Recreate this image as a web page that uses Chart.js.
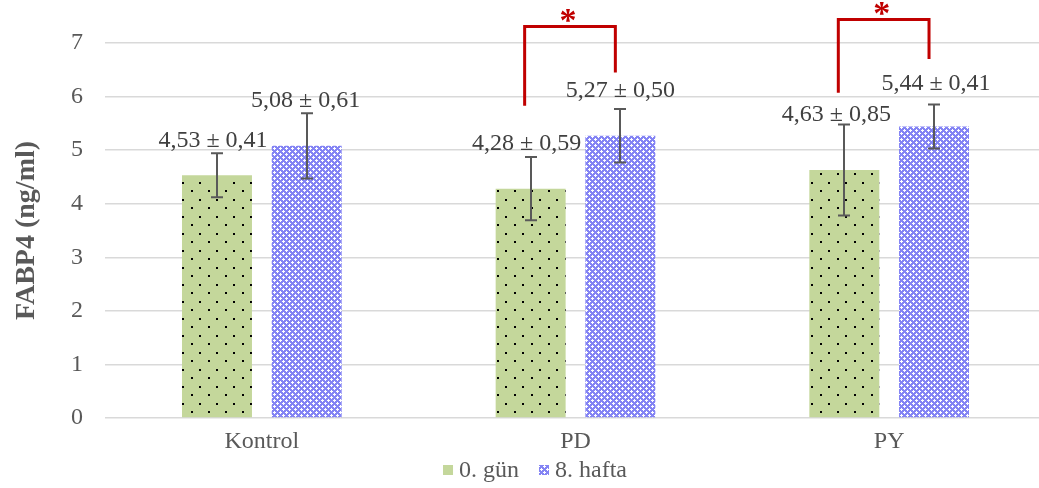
<!DOCTYPE html>
<html>
<head>
<meta charset="utf-8">
<script src="https://cdn.jsdelivr.net/npm/chart.js@4"></script>
<style>
  html, body { margin: 0; padding: 0; background: #fff; overflow: hidden; }
  #wrap { width: 1046px; height: 488px; }
</style>
</head>
<body>
<div id="wrap"><canvas id="fabpChart"></canvas></div>
<script>
// FABP4 levels, mean ± SD
const categories = ['Kontrol', 'PD', 'PY'];
const seriesNames = ['0. gün', '8. hafta'];
const day0Mean = [4.53, 4.28, 4.63];
const day0Sd = [0.41, 0.59, 0.85];
const week8Mean = [5.08, 5.27, 5.44];
const week8Sd = [0.61, 0.50, 0.41];

// significance brackets: group index, leg tops and bar top (in ng/ml)
const brackets = [
    { group: 1, left: 5.83, right: 6.45, top: 7.31 },
    { group: 2, left: 6.07, right: 6.70, top: 7.44 }
];

// small hand nudges for the mean ± SD labels (px)
const labelShift = [
    [{ dx: -4, dy: 6 }, { dx: -4, dy: 7 }, { dx: -8, dy: 3 }],
    [{ dx: -1, dy: 6 }, { dx: 0, dy: 12 }, { dx: 2, dy: 15 }]
];

const serif = "'Times New Roman', 'Liberation Serif', serif";
Chart.defaults.font.family = serif;

function dotPattern() {
    const c = document.createElement('canvas');
    c.width = 17; c.height = 17;
    const g = c.getContext('2d');
    g.fillStyle = '#c4d79b';
    g.fillRect(0, 0, 17, 17);
    g.fillStyle = '#000';
    g.fillRect(4, 3, 2, 2);
    g.fillRect(12, 12, 2, 2);
    return g.createPattern(c, 'repeat');
}

function checkPattern() {
    const c = document.createElement('canvas');
    c.width = 6; c.height = 6;
    const g = c.getContext('2d');
    g.fillStyle = '#8484f4';
    g.fillRect(0, 0, 6, 6);
    g.fillStyle = '#ffffff';
    g.fillRect(1, 0, 1, 3);
    g.fillRect(0, 1, 3, 1);
    g.fillRect(4, 3, 1, 3);
    g.fillRect(3, 4, 3, 1);
    return g.createPattern(c, 'repeat');
}

const fmt = v => v.toFixed(2).replace('.', ',');

const errorBars = {
    id: 'errorBars',
    afterDatasetsDraw(chart) {
        const ctx = chart.ctx;
        const y = chart.scales.y;
        ctx.save();
        ctx.strokeStyle = '#595959';
        ctx.lineWidth = 2;
        chart.data.datasets.forEach((ds, i) => {
            chart.getDatasetMeta(i).data.forEach((bar, j) => {
                const hi = y.getPixelForValue(ds.data[j] + ds.sd[j]);
                const lo = y.getPixelForValue(ds.data[j] - ds.sd[j]);
                const x = Math.round(bar.x);
                ctx.beginPath();
                ctx.moveTo(x, hi); ctx.lineTo(x, lo);
                ctx.moveTo(x - 6, hi); ctx.lineTo(x + 6, hi);
                ctx.moveTo(x - 6, lo); ctx.lineTo(x + 6, lo);
                ctx.stroke();
            });
        });
        // mean ± SD text above each error bar
        ctx.fillStyle = '#404040';
        ctx.font = '24px ' + serif;
        ctx.textAlign = 'center';
        ctx.textBaseline = 'alphabetic';
        chart.data.datasets.forEach((ds, i) => {
            chart.getDatasetMeta(i).data.forEach((bar, j) => {
                const s = labelShift[i][j];
                const hi = y.getPixelForValue(ds.data[j] + ds.sd[j]);
                ctx.fillText(fmt(ds.data[j]) + ' \u00b1 ' + fmt(ds.sd[j]), bar.x + s.dx, hi - s.dy);
            });
        });
        ctx.restore();
    }
};

const sigBrackets = {
    id: 'sigBrackets',
    afterDraw(chart) {
        const ctx = chart.ctx;
        const y = chart.scales.y;
        const m0 = chart.getDatasetMeta(0).data;
        const m1 = chart.getDatasetMeta(1).data;
        ctx.save();
        ctx.strokeStyle = '#c00000';
        ctx.lineWidth = 3;
        ctx.lineJoin = 'miter';
        brackets.forEach(b => {
            const xl = m0[b.group].x - 6;
            const xr = m1[b.group].x - 5;
            const yt = y.getPixelForValue(b.top);
            ctx.beginPath();
            ctx.moveTo(xl, y.getPixelForValue(b.left));
            ctx.lineTo(xl, yt);
            ctx.lineTo(xr, yt);
            ctx.lineTo(xr, y.getPixelForValue(b.right));
            ctx.stroke();
            ctx.fillStyle = '#c00000';
            ctx.font = 'bold 34px ' + serif;
            ctx.textAlign = 'center';
            ctx.textBaseline = 'alphabetic';
            ctx.fillText('*', (xl + xr) / 2 - 2, yt + 5);
        });
        ctx.restore();
    }
};

const bottomLegend = {
    id: 'bottomLegend',
    afterDraw(chart) {
        const ctx = chart.ctx;
        ctx.save();
        ctx.font = '24px ' + serif;
        ctx.textBaseline = 'middle';
        ctx.textAlign = 'left';
        const items = chart.data.datasets.map(ds => ({ fill: ds.backgroundColor, text: ds.label, w: ctx.measureText(ds.label).width }));
        const total = items.reduce((a, it) => a + 16 + it.w, 0) + 20 * (items.length - 1);
        let x = chart.width / 2 + 12 - total / 2;
        const cy = 470;
        items.forEach(it => {
            ctx.fillStyle = it.fill;
            ctx.fillRect(x, cy - 5, 10, 10);
            ctx.fillStyle = '#595959';
            ctx.fillText(it.text, x + 16, cy + 1);
            x += 16 + it.w + 20;
        });
        ctx.restore();
    }
};

document.addEventListener("DOMContentLoaded", function () {
    const ctx = document.getElementById('fabpChart').getContext('2d');

    new Chart(ctx, {
        type: 'bar',
        data: {
            labels: categories,
            datasets: [{
                label: seriesNames[0],
                data: day0Mean,
                sd: day0Sd,
                backgroundColor: dotPattern(),
                borderWidth: 0
            }, {
                label: seriesNames[1],
                data: week8Mean,
                sd: week8Sd,
                backgroundColor: checkPattern(),
                borderWidth: 0
            }]
        },
        options: {
            responsive: true,
            maintainAspectRatio: false,
            animation: false,
            layout: { padding: { top: 43, right: 0, bottom: 34, left: 0 } },
            categoryPercentage: 0.572,
            barPercentage: 0.78,
            scales: {
                x: {
                    grid: { display: false, drawTicks: false },
                    border: { display: false },
                    ticks: { color: '#595959', font: { size: 24 }, padding: 9 },
                    afterFit: s => { s.height = 36; }
                },
                y: {
                    min: 0,
                    max: 7,
                    ticks: { stepSize: 1, color: '#595959', font: { size: 24 }, padding: 22 },
                    grid: { color: '#d9d9d9', lineWidth: 1.5, drawTicks: false },
                    border: { display: false },
                    title: {
                        display: true,
                        text: 'FABP4 (ng/ml)',
                        color: '#595959',
                        font: { size: 28, weight: 'bold' },
                        padding: { top: 10, bottom: 0 }
                    },
                    afterFit: s => { s.width = 105; }
                }
            },
            plugins: {
                legend: { display: false },
                tooltip: { enabled: false }
            }
        },
        plugins: [errorBars, sigBrackets, bottomLegend]
    });
});
</script>
</body>
</html>
